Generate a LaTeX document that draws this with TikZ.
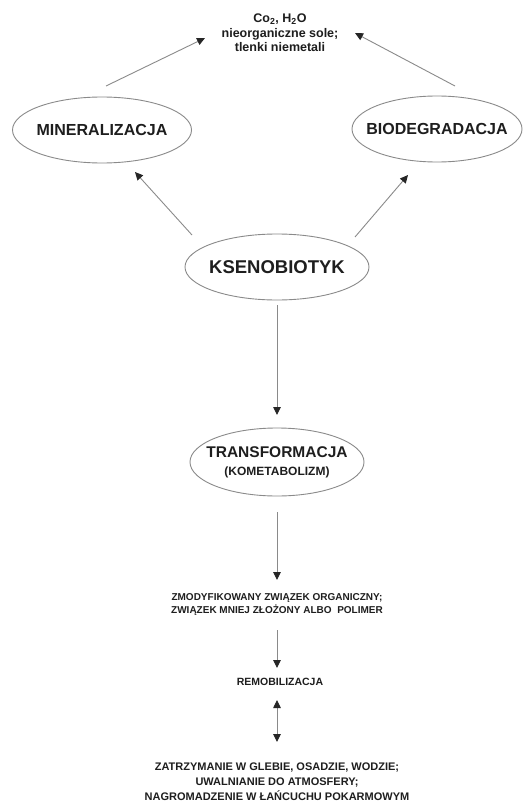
\documentclass[tikz,border=0pt]{standalone}
\usepackage{fontspec}
\setmainfont{Liberation Sans}
\usetikzlibrary{shapes.geometric,arrows.meta,calc}
\definecolor{linegray}{HTML}{8A8A8A}
\definecolor{txt}{HTML}{1E1E1E}
\tikzset{
  oval/.style={ellipse,draw=linegray,line width=0.9pt,inner xsep=-15pt,inner ysep=0pt,text=txt,font=\bfseries},
  lbl/.style={align=center,text=txt,font=\bfseries,inner sep=0pt},
  arr/.style={draw=linegray,line width=0.9pt,-{Triangle[length=8pt,width=7.5pt,color=black!85]}},
  darr/.style={draw=linegray,line width=0.9pt,{Triangle[length=8pt,width=7.5pt,color=black!85]}-{Triangle[length=8pt,width=7.5pt,color=black!85]}}
}
\begin{document}
\begin{tikzpicture}[x=1pt,y=-1pt]
\useasboundingbox[fill=white] (0,0) rectangle (529,803);
\node[lbl,font=\bfseries\fontsize{12.5}{14.5}\selectfont] (top) at (280,33) {Co\textsubscript{2}, H\textsubscript{2}O\\nieorganiczne sole;\\tlenki niemetali};
\node[oval,minimum width=179pt,minimum height=66pt,font=\bfseries\fontsize{16}{18}\selectfont] (min) at (102,130) {MINERALIZACJA};
\node[oval,minimum width=170pt,minimum height=66pt,font=\bfseries\fontsize{16}{18}\selectfont] (bio) at (437,129) {BIODEGRADACJA};
\node[oval,minimum width=184pt,minimum height=66pt,font=\bfseries\fontsize{18.5}{20}\selectfont] (ks) at (277,267) {KSENOBIOTYK};
\node[oval,minimum width=174pt,minimum height=68pt,align=center,font=\bfseries\fontsize{15.5}{17}\selectfont] (tr) at (277,462) {TRANSFORMACJA\\[1pt]{\fontsize{12}{14}\selectfont (KOMETABOLIZM)}};
\node[lbl,font=\bfseries\fontsize{10}{13}\selectfont] (zm) at (277,605) {ZMODYFIKOWANY ZWIĄZEK ORGANICZNY;\\ZWIĄZEK MNIEJ ZŁOŻONY ALBO\ \ POLIMER};
\node[lbl,font=\bfseries\fontsize{10.5}{12}\selectfont] (rem) at (280,682) {REMOBILIZACJA};
\node[lbl,font=\bfseries\fontsize{11}{15}\selectfont] (bot) at (277,782) {ZATRZYMANIE W GLEBIE, OSADZIE, WODZIE;\\UWALNIANIE DO ATMOSFERY;\\NAGROMADZENIE W ŁAŃCUCHU POKARMOWYM};
\draw[arr] ($(min)+(4,-44)$) -- ($(top)+(-75,5)$);
\draw[arr] ($(bio)+(18,-43)$) -- ($(top)+(75,0)$);
\draw[arr] ($(ks)+(-85,-32)$) -- ($(min)+(33,42)$);
\draw[arr] ($(ks)+(78,-30)$) -- ($(bio)+(-29,46)$);
\draw[arr] ($(ks)+(0,38)$) -- ($(tr)+(0,-47)$);
\draw[arr] ($(tr)+(0,50)$) -- ($(zm)+(0,-25)$);
\draw[arr] ($(zm)+(0,25)$) -- ($(rem)+(-3,-14)$);
\draw[darr] ($(rem)+(-3,18)$) -- ($(bot)+(0,-40)$);
\end{tikzpicture}
\end{document}
